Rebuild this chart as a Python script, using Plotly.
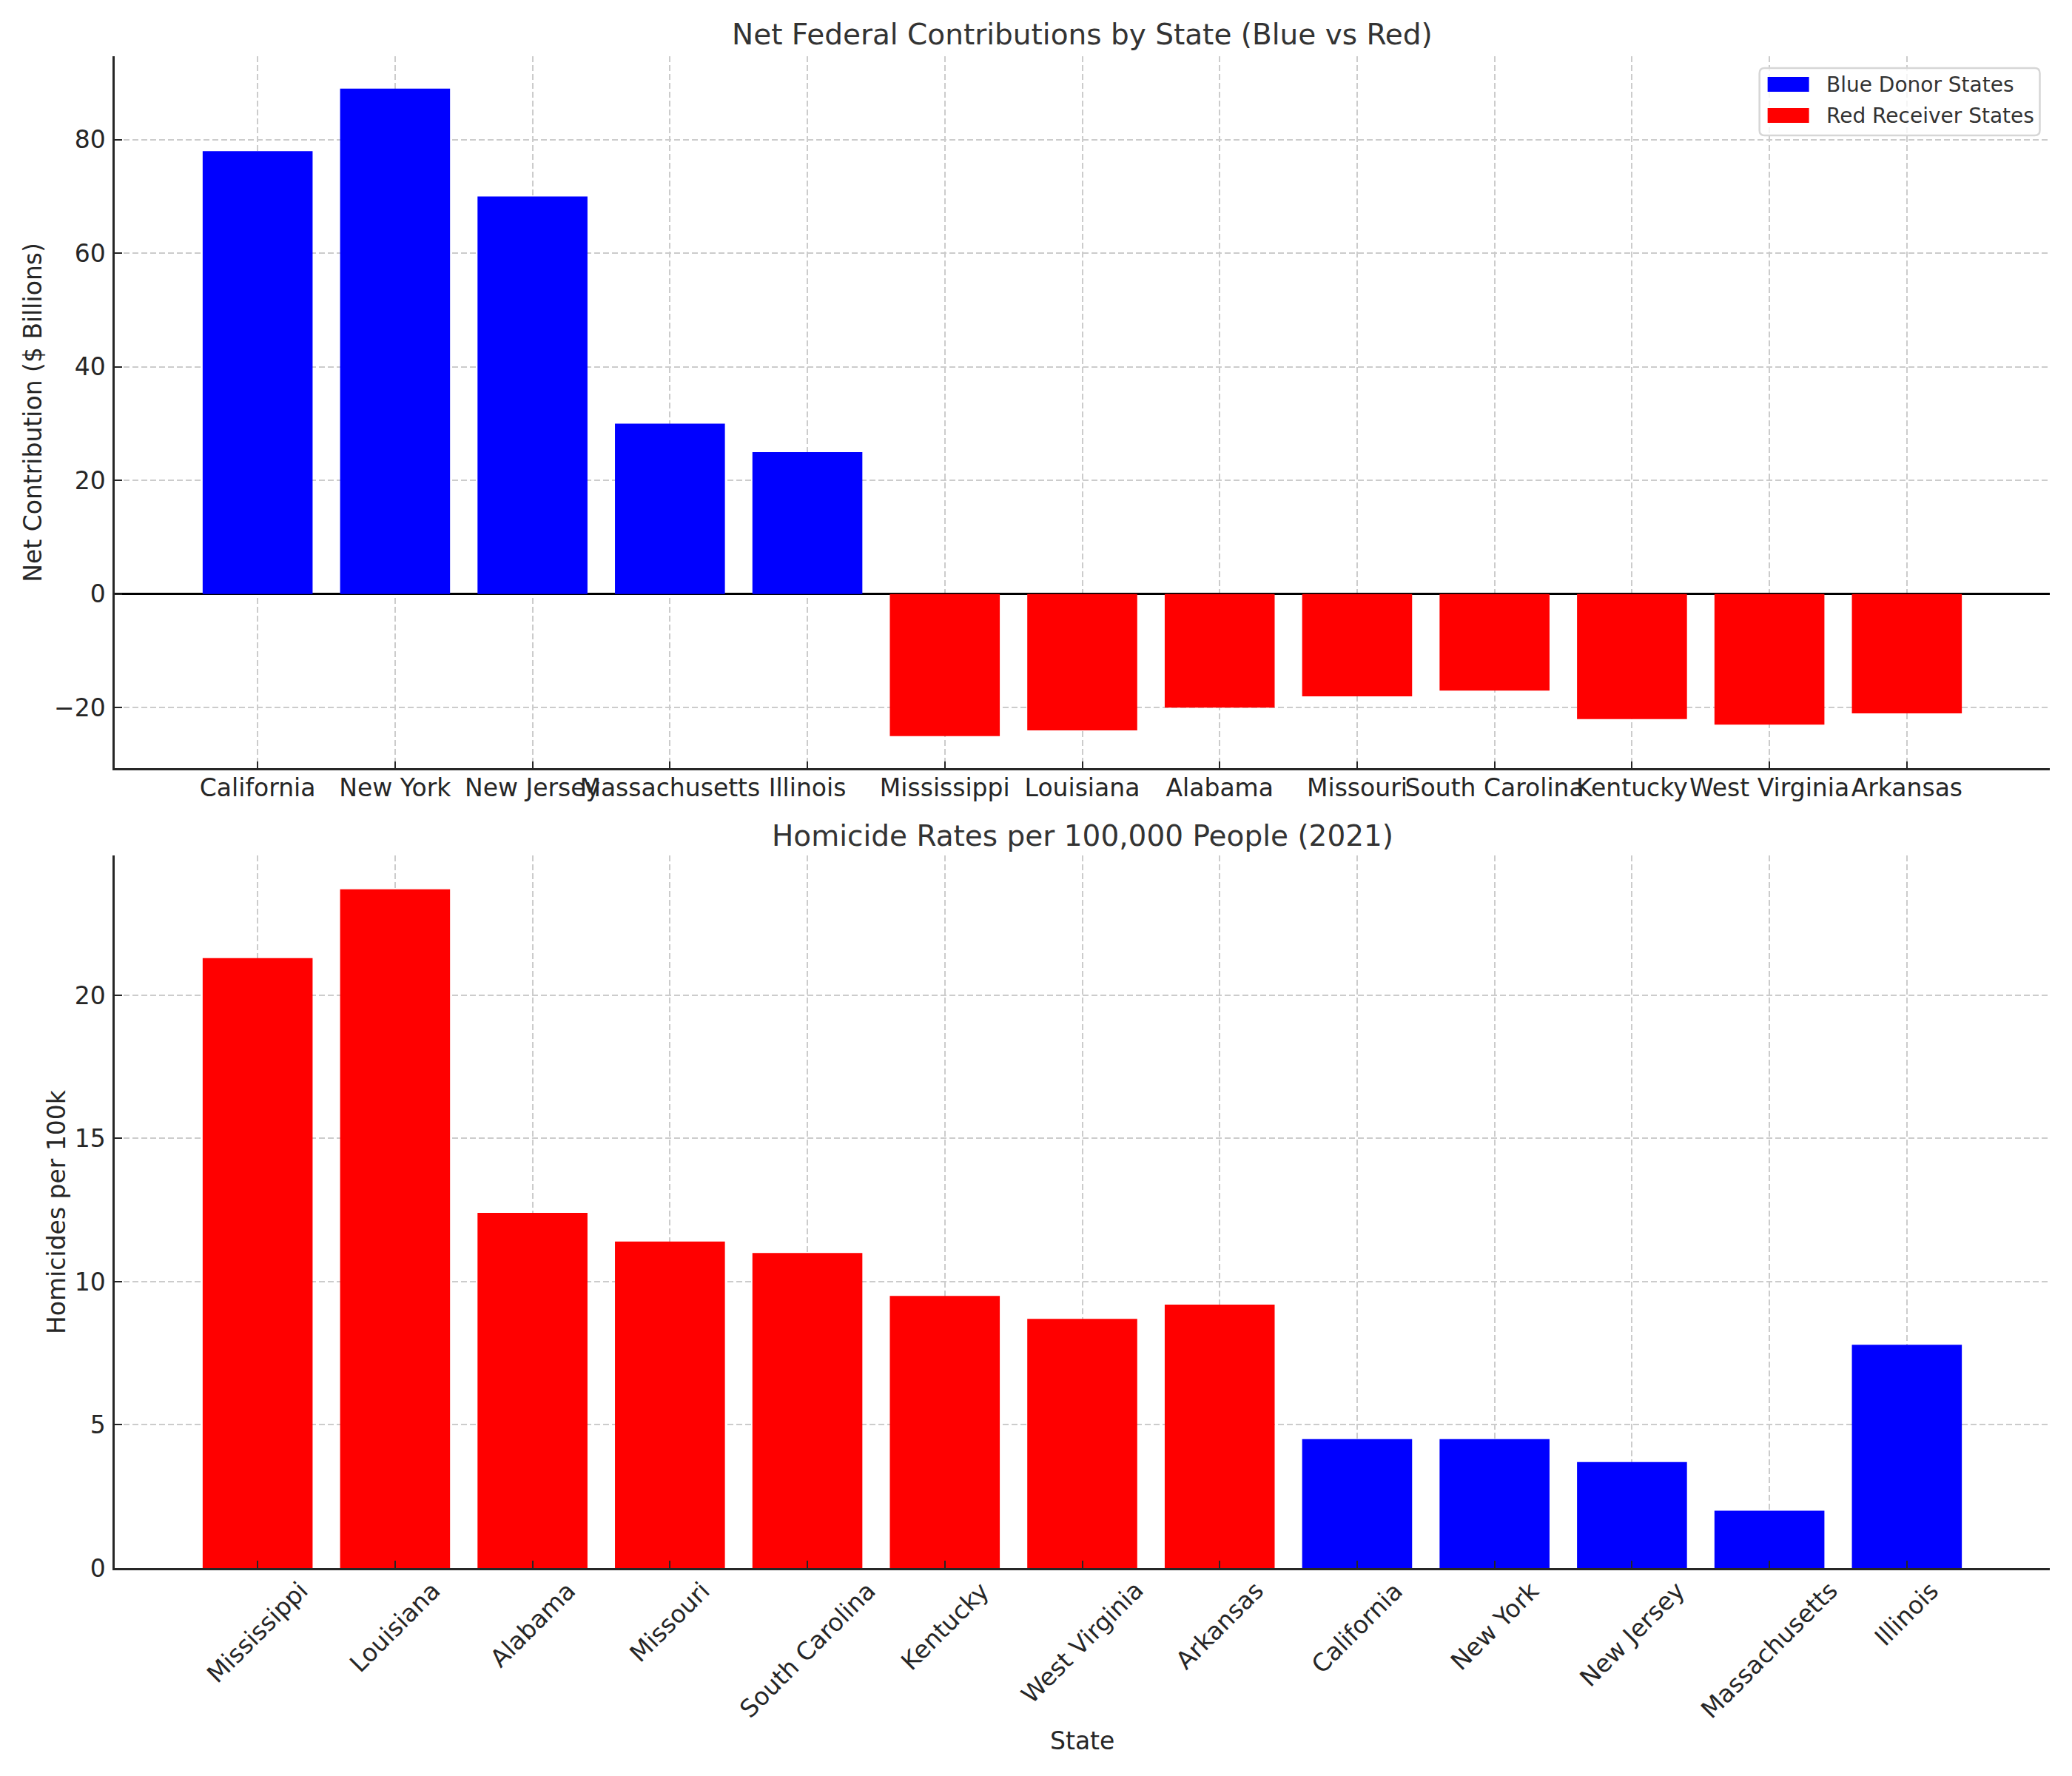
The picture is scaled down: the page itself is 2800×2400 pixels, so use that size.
import plotly.graph_objects as go
from plotly.subplots import make_subplots

# states
blue_states = ['California', 'New York', 'New Jersey', 'Massachusetts', 'Illinois']
red_states = ['Mississippi', 'Louisiana', 'Alabama', 'Missouri', 'South Carolina',
              'Kentucky', 'West Virginia', 'Arkansas']

# net federal contribution ($ billions)
blue_contrib = [78, 89, 70, 30, 25]
red_contrib = [-25, -24, -20, -18, -17, -22, -23, -21]

# homicides per 100k (2021)
red_homicide = [21.3, 23.7, 12.4, 11.4, 11.0, 9.5, 8.7, 9.2]
blue_homicide = [4.5, 4.5, 3.7, 2.0, 7.8]

top_order = blue_states + red_states
bottom_order = red_states + blue_states

legend_labels = ['Blue Donor States', 'Red Receiver States']

FONT = 'DejaVu Sans'
TXT = '#262626'
BLUE = '#0000ff'
RED = '#ff0000'

# page has an 8px body margin, figure is shrunk to fit
W, H = 2792, 2392
ML, MR, MT, MB = 146.5, 29.5, 68, 281
PW = W - ML - MR
PH = H - MT - MB


def pad(vmin, vmax, pct=0.05):
    rng = vmax - vmin
    return [vmin - rng * pct, vmax + rng * pct]


def px_x(px):
    # page pixel -> paper x
    return (px - 8 - ML) / PW


def px_y(py):
    return 1 - (py - 8 - MT) / PH


fig = make_subplots(rows=2, cols=1)

fig.add_trace(go.Bar(x=blue_states, y=blue_contrib, marker=dict(color=BLUE, line=dict(width=0)),
                     name=legend_labels[0]), row=1, col=1)
fig.add_trace(go.Bar(x=red_states, y=red_contrib, marker=dict(color=RED, line=dict(width=0)),
                     name=legend_labels[1]), row=1, col=1)
fig.add_trace(go.Bar(x=red_states, y=red_homicide, marker=dict(color=RED, line=dict(width=0))),
              row=2, col=1)
fig.add_trace(go.Bar(x=blue_states, y=blue_homicide, marker=dict(color=BLUE, line=dict(width=0))),
              row=2, col=1)

n = len(top_order)
xr = pad(-0.4, n - 1 + 0.4)
all_contrib = blue_contrib + red_contrib
yr_top = pad(min(all_contrib), max(all_contrib))
all_hom = red_homicide + blue_homicide
yr_bot = [0, max(all_hom) * 1.05]

axis_common = dict(
    showline=True, linecolor=TXT, linewidth=2.5,
    ticks='inside', ticklen=10, tickwidth=2, tickcolor=TXT,
    tickfont=dict(family=FONT, size=33, color=TXT),
    showgrid=True, gridcolor='#cccccc', gridwidth=2, griddash='8px,4px',
    zeroline=False,
)

fig.update_xaxes(**axis_common, ticklabelstandoff=-5)
fig.update_yaxes(**axis_common, ticklabelstandoff=3)

fig.update_xaxes(categoryorder='array', categoryarray=top_order, range=xr,
                 tickangle=0, domain=[0, 1], row=1, col=1)
fig.update_xaxes(categoryorder='array', categoryarray=bottom_order, range=xr,
                 showticklabels=False, domain=[0, 1], row=2, col=1)

fig.update_yaxes(range=yr_top, dtick=20, domain=[0.5289, 1],
                 zeroline=True, zerolinecolor='black', zerolinewidth=2.5,
                 row=1, col=1)
fig.update_yaxes(range=yr_bot, dtick=5, domain=[0, 0.4714], row=2, col=1)

annotations = [
    dict(text='Net Federal Contributions by State (Blue vs Red)', x=0.5, xref='paper',
         y=1, yref='y domain', yanchor='bottom', yshift=5, showarrow=False,
         font=dict(family=FONT, size=39, color='#333333')),
    dict(text='Homicide Rates per 100,000 People (2021)', x=0.5, xref='paper',
         y=1, yref='y2 domain', yanchor='bottom', yshift=2, showarrow=False,
         font=dict(family=FONT, size=39, color='#333333')),
    dict(text='Net Contribution ($ Billions)', x=px_x(44), xref='paper',
         y=0.5, yref='y domain', textangle=-90, xanchor='center', yanchor='middle',
         showarrow=False, font=dict(family=FONT, size=33, color=TXT)),
    dict(text='Homicides per 100k', x=px_x(76), xref='paper',
         y=0.5, yref='y2 domain', textangle=-90, xanchor='center', yanchor='middle',
         showarrow=False, font=dict(family=FONT, size=33, color=TXT)),
    dict(text='State', x=0.5, xref='paper', y=0, yref='y2 domain', yanchor='middle',
         yshift=-233, showarrow=False, font=dict(family=FONT, size=33, color=TXT)),
]
# rotated tick labels for the lower chart, centred under each tick
for state in bottom_order:
    annotations.append(dict(text=state, x=state, xref='x2', y=0, yref='y2 domain',
                            textangle=-45, xanchor='center', yanchor='top', yshift=-8,
                            showarrow=False, font=dict(family=FONT, size=33, color=TXT)))

# legend drawn by hand (matplotlib-like wide swatches, rounded frame)
shapes = []
bx0, bx1, by0, by1, rad = 2378, 2757, 92, 183, 7
x0, x1 = px_x(bx0), px_x(bx1)
rx = rad / PW
ry = rad / PH
yt, yb = px_y(by0), px_y(by1)
path = (f'M {x0 + rx},{yt} L {x1 - rx},{yt} Q {x1},{yt} {x1},{yt - ry} '
        f'L {x1},{yb + ry} Q {x1},{yb} {x1 - rx},{yb} L {x0 + rx},{yb} '
        f'Q {x0},{yb} {x0},{yb + ry} L {x0},{yt - ry} Q {x0},{yt} {x0 + rx},{yt} Z')
shapes.append(dict(type='path', path=path, xref='paper', yref='paper',
                   fillcolor='rgba(255,255,255,0.8)', line=dict(color='#d6d6d6', width=2.5)))
for label, color, cy in zip(legend_labels, [BLUE, RED], [114, 156]):
    shapes.append(dict(type='rect', xref='paper', yref='paper',
                       x0=px_x(2389), x1=px_x(2445), y0=px_y(cy - 10), y1=px_y(cy + 10),
                       fillcolor=color, line=dict(width=0)))
    annotations.append(dict(text=label, x=px_x(2466), xref='paper', y=px_y(cy), yref='paper',
                            xanchor='left', yanchor='middle', showarrow=False,
                            font=dict(family=FONT, size=28, color='#333333')))

fig.update_layout(
    width=W, height=H,
    margin=dict(l=ML, r=MR, t=MT, b=MB),
    paper_bgcolor='white', plot_bgcolor='white',
    barmode='overlay', bargap=0.2,
    font=dict(family=FONT, color=TXT),
    annotations=annotations,
    shapes=shapes,
    showlegend=False,
)

fig.write_html('out.html')
